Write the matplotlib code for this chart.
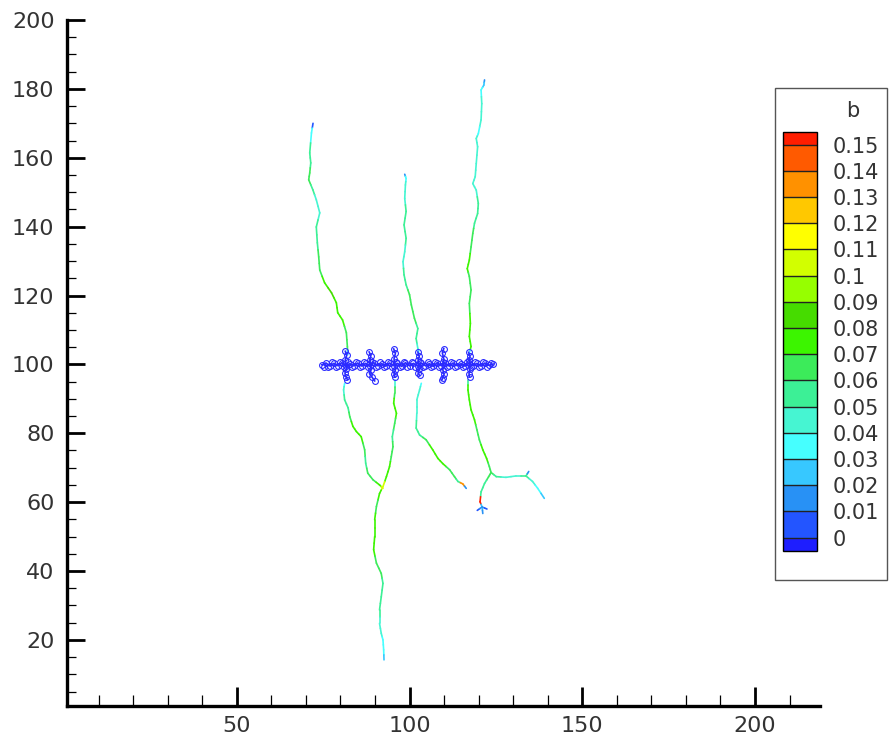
import numpy as np
import matplotlib
matplotlib.use("Agg")
import matplotlib.pyplot as plt
from matplotlib.collections import LineCollection
from matplotlib.colors import ListedColormap, BoundaryNorm
from matplotlib.patches import Rectangle
from matplotlib.ticker import MultipleLocator

plt.rcParams['font.family'] = ['DejaVu Sans']

# ── contour levels / colours of "b" ───────────────────────────────
levels = [0, 0.01, 0.02, 0.03, 0.04, 0.05, 0.06, 0.07, 0.08,
          0.09, 0.1, 0.11, 0.12, 0.13, 0.14, 0.15]
level_labels = ['0', '0.01', '0.02', '0.03', '0.04', '0.05', '0.06', '0.07',
                '0.08', '0.09', '0.1', '0.11', '0.12', '0.13', '0.14', '0.15']
band_colors = ['#2355ff', '#2891f5', '#37c8ff', '#46ffff', '#46f5d2',
               '#3cf096', '#3ceb5a', '#3cf500', '#46dc00', '#96ff00',
               '#d2ff00', '#ffff00', '#ffc800', '#ff9100', '#ff5a00']
under_color = '#1e1eff'
over_color = '#ff1e00'

# ── fracture traces (x, y, b) ─────────────────────────────────────
fracA_top_x = [72.05, 71.6, 71.1, 71.4, 71.1, 70.8, 72.0, 73.0, 74.0, 73.0, 73.3,
               73.7, 74.0, 75.4, 77.4, 78.8, 79.2, 80.6, 81.7, 82.0, 82.1]
fracA_top_y = [170.0, 167.2, 161.4, 158.5, 155.6, 153.6, 150.7, 147.8, 144.0, 139.9, 135.3,
               131.2, 127.4, 123.7, 120.8, 117.9, 115.0, 112.9, 109.2, 105.1, 102.8]
fracA_top_b = [0.005, 0.03, 0.05, 0.05, 0.06, 0.065, 0.055, 0.045, 0.04, 0.055, 0.055,
               0.06, 0.065, 0.075, 0.08, 0.075, 0.07, 0.075, 0.065, 0.06, 0.02]

fracA_bot_x = [81.2, 80.9, 81.2, 82.2, 82.7, 83.6, 84.6, 86.0, 87.0, 87.3, 87.9, 89.4, 91.3, 92.3]
fracA_bot_y = [94.5, 92.6, 89.7, 87.4, 84.8, 82.0, 80.5, 79.0, 75.2, 71.3, 68.4, 66.5, 65.0, 64.0]
fracA_bot_b = [0.03, 0.045, 0.05, 0.055, 0.065, 0.07, 0.075, 0.07, 0.06, 0.055, 0.06, 0.065, 0.07, 0.1]

fracB_top_x = [98.6, 99.0, 98.8, 98.6, 99.0, 98.4, 99.0, 98.6, 98.1, 98.4, 99.0,
               100.0, 100.5, 101.4, 102.4, 101.9, 102.4, 102.7]
fracB_top_y = [155.2, 154.0, 152.1, 148.2, 144.4, 140.5, 136.6, 132.7, 129.8, 126.0, 123.1,
               120.2, 117.3, 113.4, 110.4, 107.5, 104.6, 103.2]
fracB_top_b = [0.015, 0.035, 0.04, 0.045, 0.05, 0.055, 0.05, 0.045, 0.04, 0.05, 0.055,
               0.06, 0.065, 0.06, 0.055, 0.05, 0.045, 0.035]

fracB_bot_x = [103.4, 102.9, 102.1, 102.1, 101.9, 102.9, 104.8, 106.7, 108.2, 109.6,
               111.6, 113.0, 114.0, 115.4, 116.4]
fracB_bot_y = [94.5, 92.6, 89.7, 85.8, 81.5, 79.5, 78.1, 75.2, 72.7, 71.2,
               69.4, 67.4, 66.0, 65.3, 64.0]
fracB_bot_b = [0.03, 0.04, 0.04, 0.045, 0.05, 0.055, 0.065, 0.07, 0.075, 0.07,
               0.065, 0.06, 0.055, 0.13, 0.015]

fracC_top_x = [121.7, 121.5, 120.7, 120.9, 120.7, 119.9, 119.3, 119.7, 119.3, 119.0, 118.3,
               119.3, 119.9, 119.7, 118.8, 118.3, 117.8, 117.3, 116.7, 117.3, 117.8,
               117.3, 117.6, 117.3, 117.8, 117.3]
fracC_top_y = [182.6, 181.1, 179.7, 175.7, 171.0, 167.0, 165.6, 163.2, 158.3, 154.5, 152.5,
               150.6, 146.7, 143.8, 141.0, 138.0, 134.1, 130.3, 127.8, 125.5, 121.6,
               117.7, 111.9, 108.1, 105.2, 103.3]
fracC_top_b = [0.015, 0.025, 0.035, 0.04, 0.04, 0.035, 0.04, 0.045, 0.045, 0.04, 0.04,
               0.045, 0.05, 0.05, 0.055, 0.06, 0.065, 0.07, 0.075, 0.065, 0.06,
               0.065, 0.07, 0.075, 0.07, 0.03]

fracC_bot_x = [116.9, 116.9, 117.3, 117.8, 118.8, 119.5, 120.2, 121.2, 122.3, 123.1, 123.6]
fracC_bot_y = [95.5, 92.6, 89.7, 86.8, 83.9, 81.0, 78.1, 75.2, 72.7, 70.3, 68.6]
fracC_bot_b = [0.055, 0.07, 0.075, 0.075, 0.07, 0.065, 0.065, 0.07, 0.075, 0.065, 0.065]

branch_east_x = [123.6, 125.1, 127.9, 130.8, 133.7, 134.5]
branch_east_y = [68.6, 67.4, 67.2, 67.6, 67.6, 68.9]
branch_east_b = [0.065, 0.05, 0.045, 0.045, 0.05, 0.01]

branch_se_x = [133.7, 135.6, 137.1, 139.0]
branch_se_y = [67.6, 66.0, 64.0, 61.1]
branch_se_b = [0.05, 0.04, 0.035, 0.025]

branch_south_x = [123.6, 122.9, 121.7, 120.7, 120.4, 121.0, 121.2]
branch_south_y = [68.6, 67.4, 65.4, 63.0, 60.1, 58.6, 56.7]
branch_south_b = [0.065, 0.06, 0.055, 0.05, 0.15, 0.02, 0.01]

branch_tip_x = [119.6, 121.0, 122.4]
branch_tip_y = [57.6, 58.6, 58.0]
branch_tip_b = [0.005, 0.01, 0.005]

fracD_x = [95.7, 95.7, 95.4, 96.2, 95.7, 95.0, 95.2, 94.7, 94.2, 93.3, 92.3]
fracD_y = [95.5, 91.6, 88.7, 85.8, 82.9, 79.0, 76.1, 73.2, 70.3, 67.4, 64.5]
fracD_b = [0.04, 0.065, 0.07, 0.075, 0.065, 0.055, 0.06, 0.065, 0.07, 0.075, 0.1]

trunk_x = [92.3, 91.3, 90.4, 89.9, 89.9, 89.6, 90.4, 91.8, 92.3, 91.8, 91.3,
           91.3, 91.8, 92.3, 92.5, 92.6]
trunk_y = [64.5, 62.5, 58.7, 54.9, 50.0, 46.2, 42.3, 39.3, 36.4, 32.5, 28.7,
           24.8, 21.9, 20.0, 17.1, 14.2]
trunk_b = [0.1, 0.075, 0.065, 0.07, 0.075, 0.07, 0.065, 0.06, 0.055, 0.055, 0.05,
           0.045, 0.04, 0.035, 0.03, 0.02]

# horizontal fracture (mesh of small circles), two staggered rows
horiz_x = [74.6, 75.8, 77.0, 78.1, 79.3, 80.4, 81.6, 82.7, 83.9, 85.0, 86.2,
           87.3, 88.5, 89.6, 90.8, 91.9, 93.1, 94.2, 95.4, 96.5, 97.7, 98.8,
           100.0, 101.1, 102.3, 103.4, 104.6, 105.7, 106.9, 108.0, 109.2, 110.3,
           111.5, 112.6, 113.8, 114.9, 116.1, 117.2, 118.4, 119.5, 120.7, 121.8,
           123.0, 124.2]
horiz_y = [99.9, 100.4, 99.5, 100.3, 99.6, 100.5, 99.4, 100.2, 99.6, 100.4, 99.5,
           100.3, 99.4, 100.5, 99.6, 100.2, 99.5, 100.4, 99.6, 100.3, 99.4, 100.5,
           99.6, 100.3, 99.5, 100.4, 99.6, 100.2, 99.4, 100.5, 99.6, 100.3,
           99.5, 100.4, 99.6, 100.2, 99.5, 100.4, 99.6, 100.3, 99.5, 100.4,
           99.7, 100.1]
horiz2_x = [75.2, 76.4, 77.6, 78.7, 79.9, 81.0, 82.2, 83.3, 84.5, 85.6, 86.8,
            87.9, 89.1, 90.2, 91.4, 92.5, 93.7, 94.8, 96.0, 97.1, 98.3, 99.4,
            100.6, 101.7, 102.9, 104.0, 105.2, 106.3, 107.5, 108.6, 109.8, 110.9,
            112.1, 113.2, 114.4, 115.5, 116.7, 117.8, 119.0, 120.1, 121.3, 122.4,
            123.6]
horiz2_y = [99.3, 99.2, 100.7, 99.1, 100.6, 99.2, 100.8, 99.1, 100.7, 99.3, 100.6,
            99.2, 100.8, 99.1, 100.7, 99.2, 100.6, 99.3, 100.8, 99.1, 100.7, 99.2,
            100.6, 99.1, 100.8, 99.3, 100.7, 99.2, 100.6, 99.1, 100.8, 99.2,
            100.7, 99.3, 100.6, 99.1, 100.8, 99.2, 100.7, 99.1, 100.6, 99.3,
            100.5]

spikes_x = [[81.4, 81.8, 81.4, 81.7, 81.3, 81.6, 82.0],
            [88.3, 88.8, 88.5, 88.9, 88.4, 89.2, 89.9],
            [95.4, 95.9, 95.5, 95.9, 95.5, 95.8],
            [102.4, 102.8, 102.5, 102.8, 102.5, 102.9],
            [109.9, 109.5, 109.9, 109.6, 110.0, 109.6, 109.3],
            [117.1, 117.5, 117.2, 117.5, 117.2, 117.4]]
spikes_y = [[103.8, 102.6, 101.4, 98.6, 97.4, 96.4, 95.6],
            [103.6, 102.5, 101.3, 98.5, 97.3, 96.2, 95.2],
            [104.5, 103.2, 101.6, 98.4, 97.2, 96.3],
            [103.6, 102.3, 101.3, 98.6, 97.4, 96.8],
            [104.6, 103.3, 101.6, 98.5, 97.2, 96.0, 95.4],
            [103.5, 102.3, 101.3, 98.6, 97.3, 96.4]]

traces = [
    (fracA_top_x, fracA_top_y, fracA_top_b),
    (fracA_bot_x, fracA_bot_y, fracA_bot_b),
    (fracB_top_x, fracB_top_y, fracB_top_b),
    (fracB_bot_x, fracB_bot_y, fracB_bot_b),
    (fracC_top_x, fracC_top_y, fracC_top_b),
    (fracC_bot_x, fracC_bot_y, fracC_bot_b),
    (branch_east_x, branch_east_y, branch_east_b),
    (branch_se_x, branch_se_y, branch_se_b),
    (branch_south_x, branch_south_y, branch_south_b),
    (branch_tip_x, branch_tip_y, branch_tip_b),
    (fracD_x, fracD_y, fracD_b),
    (trunk_x, trunk_y, trunk_b),
]

cmap = ListedColormap(band_colors).with_extremes(under=under_color, over=over_color)
norm = BoundaryNorm(levels, len(band_colors))


def half_segments(xs, ys, bs):
    # every point colours the half of each segment next to it
    xs, ys, bs = np.asarray(xs), np.asarray(ys), np.asarray(bs)
    mx, my = (xs[:-1] + xs[1:]) / 2, (ys[:-1] + ys[1:]) / 2
    segs, vals = [], []
    for i in range(len(xs) - 1):
        segs.append([(xs[i], ys[i]), (mx[i], my[i])])
        vals.append(bs[i])
        segs.append([(mx[i], my[i]), (xs[i + 1], ys[i + 1])])
        vals.append(bs[i + 1])
    return segs, vals


fig = plt.figure(figsize=(8.95, 7.42), dpi=100)

# legend frame first so it sits behind the colour bar
frame = Rectangle((775 / 895, 1 - 580 / 742), (887 - 775) / 895, (580 - 88) / 742,
                  transform=fig.transFigure, facecolor='white', edgecolor='#555555',
                  linewidth=1.0, zorder=-5)
fig.patches.append(frame)

ax = fig.add_axes([67 / 895, 1 - 706 / 742, (819.6 - 67) / 895, (706 - 20) / 742])
ax.patch.set_alpha(0)

all_segs, all_vals = [], []
for xs, ys, bs in traces:
    s, v = half_segments(xs, ys, bs)
    all_segs += s
    all_vals += v
lc = LineCollection(all_segs, cmap=cmap, norm=norm, linewidths=1.2,
                    capstyle='round', joinstyle='round', zorder=3)
lc.set_array(np.array(all_vals))
ax.add_collection(lc)

# horizontal fracture with mesh circles
mesh_blue = '#2a2aff'
ax.plot(horiz_x, horiz_y, '-', color=mesh_blue, lw=1.2, zorder=4)
ax.plot(horiz_x, horiz_y, 'o', ms=4.2, mfc='none', mec=mesh_blue, mew=0.8, zorder=5)
ax.plot(horiz2_x, horiz2_y, 'o', ms=4.2, mfc='none', mec=mesh_blue, mew=0.8, zorder=5)
for sx, sy in zip(spikes_x, spikes_y):
    ax.plot(sx, sy, '-', color=mesh_blue, lw=1.2, zorder=4)
    ax.plot(sx, sy, 'o', ms=4.2, mfc='none', mec=mesh_blue, mew=0.8, zorder=5)

ax.set_xlim(0.83, 218.7)
ax.set_ylim(0.8, 200)

for side in ('top', 'right'):
    ax.spines[side].set_visible(False)
for side in ('left', 'bottom'):
    ax.spines[side].set_linewidth(2.4)
    ax.spines[side].set_color('black')

ax.xaxis.set_minor_locator(MultipleLocator(10))
ax.yaxis.set_minor_locator(MultipleLocator(5))
ax.set_xticks([50, 100, 150, 200])
ax.set_yticks([20, 40, 60, 80, 100, 120, 140, 160, 180, 200])
ax.tick_params(which='major', direction='in', length=13, width=2.0,
               labelsize=16, labelcolor='#333333', pad=9)
ax.tick_params(which='minor', direction='in', length=6.5, width=0.9)
ax.tick_params(axis='x', which='major', length=13.5, pad=7)
ax.tick_params(axis='x', which='minor', length=8)

fig.text(853 / 895, 1 - 111 / 742, 'b', ha='center', va='center',
         fontsize=15, color='#333333')

cax = fig.add_axes([783 / 895, 1 - 550.6 / 742, (817.4 - 783) / 895, (550.6 - 131.6) / 742])
sm = plt.cm.ScalarMappable(norm=norm, cmap=cmap)
cb = fig.colorbar(sm, cax=cax, extend='both', extendrect=True,
                  extendfrac=0.5 / 15, drawedges=True, ticks=levels)
cb.ax.set_yticklabels(level_labels)
cb.ax.tick_params(length=0, labelsize=15, labelcolor='#333333', pad=11)
cb.outline.set_linewidth(1.0)
cb.dividers.set_linewidth(1.0)
cb.dividers.set_color('#222222')

fig.savefig('out.png', dpi=100, facecolor='white')
